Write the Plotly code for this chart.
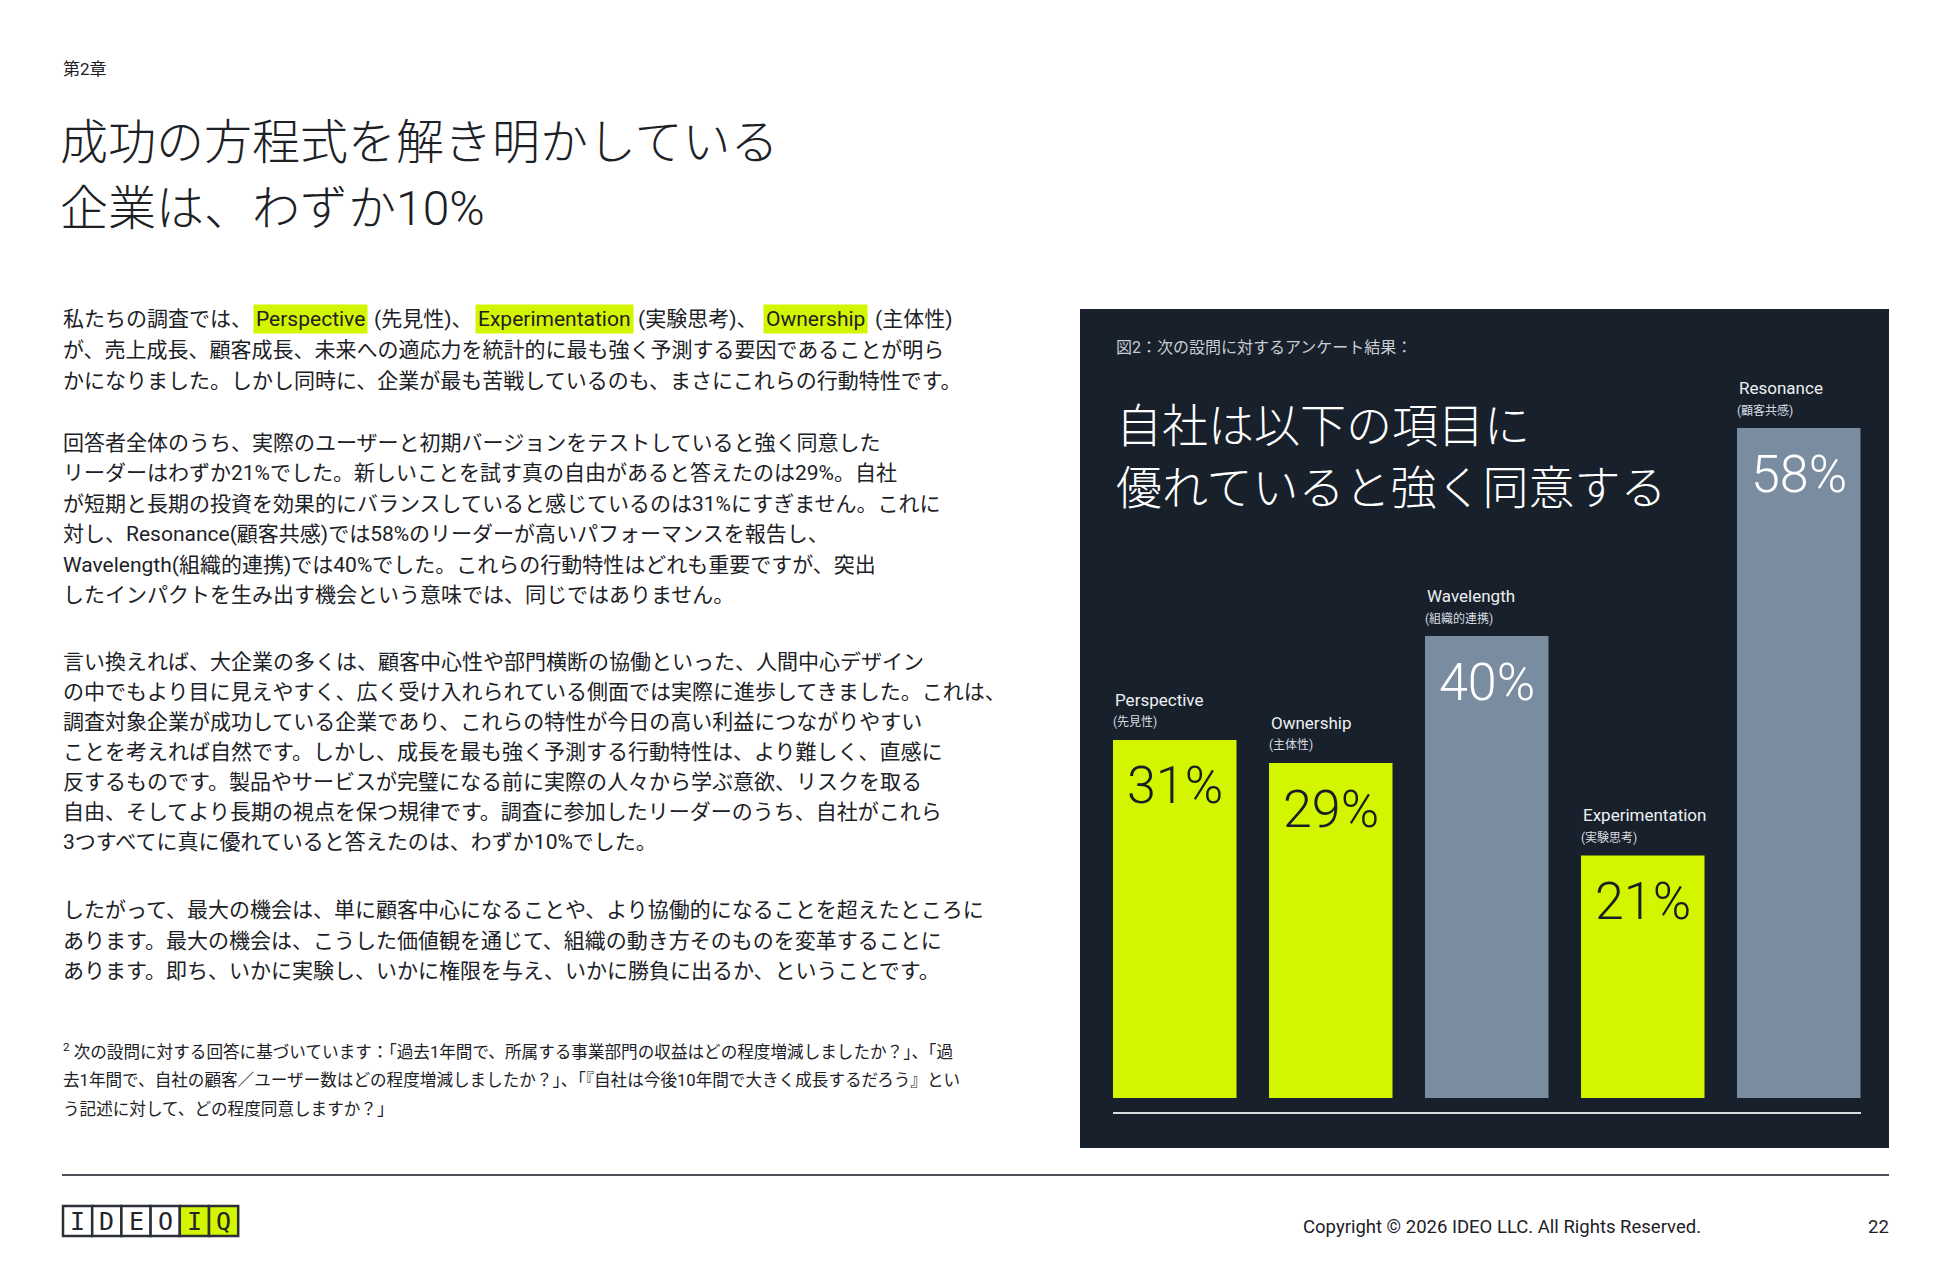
import plotly.graph_objects as go

# --- data ---
categories = ["Perspective", "Ownership", "Wavelength", "Experimentation", "Resonance"]
sublabels = ["(先見性)", "(主体性)", "(組織的連携)", "(実験思考)", "(顧客共感)"]
values = [31, 29, 40, 21, 58]
value_labels = ["31%", "29%", "40%", "21%", "58%"]
bar_colors = ["#d4f500", "#d4f500", "#7a8c9f", "#d4f500", "#7a8c9f"]
value_colors = ["#161e26", "#161e26", "#ffffff", "#161e26", "#ffffff"]

chapter = "第2章"
title_lines = ["成功の方程式を解き明かしている", "企業は、わずか10%"]
chart_caption = "図2：次の設問に対するアンケート結果："
chart_title = ["自社は以下の項目に", "優れていると強く同意する"]

# first line of body with highlighted words
p1_segments = ["私たちの調査では、", "Perspective", "(先見性)、", "Experimentation",
               "(実験思考)、", "Ownership", "(主体性)"]
p1_highlight = [False, True, False, True, False, True, False]

body_lines = [
    "が、売上成長、顧客成長、未来への適応力を統計的に最も強く予測する要因であることが明ら",
    "かになりました。しかし同時に、企業が最も苦戦しているのも、まさにこれらの行動特性です。",
    "回答者全体のうち、実際のユーザーと初期バージョンをテストしていると強く同意した",
    "リーダーはわずか21%でした。新しいことを試す真の自由があると答えたのは29%。自社",
    "が短期と長期の投資を効果的にバランスしていると感じているのは31%にすぎません。これに",
    "対し、Resonance(顧客共感)では58%のリーダーが高いパフォーマンスを報告し、",
    "Wavelength(組織的連携)では40%でした。これらの行動特性はどれも重要ですが、突出",
    "したインパクトを生み出す機会という意味では、同じではありません。",
    "言い換えれば、大企業の多くは、顧客中心性や部門横断の協働といった、人間中心デザイン",
    "の中でもより目に見えやすく、広く受け入れられている側面では実際に進歩してきました。これは、",
    "調査対象企業が成功している企業であり、これらの特性が今日の高い利益につながりやすい",
    "ことを考えれば自然です。しかし、成長を最も強く予測する行動特性は、より難しく、直感に",
    "反するものです。製品やサービスが完璧になる前に実際の人々から学ぶ意欲、リスクを取る",
    "自由、そしてより長期の視点を保つ規律です。調査に参加したリーダーのうち、自社がこれら",
    "3つすべてに真に優れていると答えたのは、わずか10%でした。",
    "したがって、最大の機会は、単に顧客中心になることや、より協働的になることを超えたところに",
    "あります。最大の機会は、こうした価値観を通じて、組織の動き方そのものを変革することに",
    "あります。即ち、いかに実験し、いかに権限を与え、いかに勝負に出るか、ということです。",
]
footnote_lines = [
    "<sup>2</sup> 次の設問に対する回答に基づいています：「過去1年間で、所属する事業部門の収益はどの程度増減しましたか？」、「過",
    "去1年間で、自社の顧客／ユーザー数はどの程度増減しましたか？」、「『自社は今後10年間で大きく成長するだろう』とい",
    "う記述に対して、どの程度同意しますか？」",
]
logo_letters = ["I", "D", "E", "O", "I", "Q"]
copyright_text = "Copyright © 2026 IDEO LLC. All Rights Reserved."
page_number = "22"

# --- page geometry (page pixels, body margin 8px) ---
OFF = 8
W, H = 1934, 1250
FONT = "Roboto, 'Noto Sans CJK JP', sans-serif"
INK = "#1c2126"
PANEL = "#17202b"
LIME = "#d4f500"


def fx(p):
    return (p - OFF) / W


def fy(p):
    return 1 - (p - OFF) / H


fig = go.Figure()

fig.add_trace(go.Bar(
    x=categories, y=values,
    marker=dict(color=bar_colors, line=dict(width=0)),
    xaxis="x2", yaxis="y2",
    hoverinfo="skip",
))

shapes = []
annotations = []

# dark panel
shapes.append(dict(type="rect", xref="paper", yref="paper",
                   x0=fx(1080), x1=fx(1889), y0=fy(309), y1=fy(1148),
                   fillcolor=PANEL, line=dict(width=0), layer="below"))
# chart baseline
shapes.append(dict(type="line", xref="paper", yref="paper",
                   x0=fx(1113), x1=fx(1861), y0=fy(1113), y1=fy(1113),
                   line=dict(color="#d9dde1", width=2)))
# footer rule
shapes.append(dict(type="line", xref="paper", yref="paper",
                   x0=fx(62), x1=fx(1889), y0=fy(1175), y1=fy(1175),
                   line=dict(color="#4b5056", width=2)))


def text(x, y, s, size, color=INK, xanchor="left", yanchor="middle", weight=None,
         family=FONT, **kw):
    f = dict(family=family, size=size, color=color)
    if weight:
        f["weight"] = weight
    annotations.append(dict(xref="paper", yref="paper", x=fx(x), y=fy(y), text=s,
                            showarrow=False, xanchor=xanchor, yanchor=yanchor,
                            font=f, **kw))


# header
text(61, 69, chapter, 17)
text(58, 143, title_lines[0], 48, weight=300)
text(58, 208, title_lines[1], 48, weight=300)

# body first line with highlights
seg_x = [61, 253, 372, 475, 636, 763, 873]
for s, x, hl in zip(p1_segments, seg_x, p1_highlight):
    if hl:
        text(x, 319, s, 21, bgcolor=LIME, borderpad=2)
    else:
        text(x, 319, s, 21)

body_y = [350, 381, 443, 473, 504, 534, 565, 595,
          662, 692, 722, 752, 782, 812, 842, 910, 941, 971]
for s, y in zip(body_lines, body_y):
    text(61, y, s, 21)

for s, y in zip(footnote_lines, [1051, 1080, 1109]):
    text(61, y, s, 16.6)

# chart texts
text(1114, 347, chart_caption, 16, color="#c9ced3")
text(1114, 426, chart_title[0], 46, color="#ffffff", weight=300)
text(1114, 488, chart_title[1], 46, color="#ffffff", weight=300)

for c, sub, v, vl, vc in zip(categories, sublabels, values, value_labels, value_colors):
    annotations.append(dict(xref="x2", yref="y2", x=c, y=v, text=c, showarrow=False,
                            xanchor="left", yanchor="middle", xshift=-62, yshift=40,
                            font=dict(family=FONT, size=17, color="#eef0f2")))
    annotations.append(dict(xref="x2", yref="y2", x=c, y=v, text=sub, showarrow=False,
                            xanchor="left", yanchor="middle", xshift=-64, yshift=18,
                            font=dict(family=FONT, size=12, color="#d8dce0")))
    annotations.append(dict(xref="x2", yref="y2", x=c, y=v, text=vl, showarrow=False,
                            xanchor="center", yanchor="middle", yshift=-46,
                            font=dict(family=FONT, size=52, color=vc, weight=300)))

# logo
box_w = 29.2
for i, ch in enumerate(logo_letters):
    x0 = 63 + i * box_w
    shapes.append(dict(type="rect", xref="paper", yref="paper",
                       x0=fx(x0), x1=fx(x0 + box_w), y0=fy(1206), y1=fy(1236),
                       fillcolor=LIME if i >= 4 else "#ffffff",
                       line=dict(color="#2a3036", width=2.5)))
    text(x0 + box_w / 2, 1221.5, ch, 25, color="#1f262c", xanchor="center",
         family="'DejaVu Sans Mono', monospace")

text(1301, 1227, copyright_text, 18.5)
text(1891, 1227, page_number, 18.5, xanchor="right")

fig.update_layout(
    width=W, height=H,
    margin=dict(l=0, r=0, t=0, b=0),
    paper_bgcolor="#ffffff",
    plot_bgcolor="rgba(0,0,0,0)",
    showlegend=False,
    bargap=0.2083,
    xaxis=dict(visible=False),
    yaxis=dict(visible=False),
    xaxis2=dict(domain=[fx(1096.75), fx(1876.75)], anchor="y2", visible=False,
                fixedrange=True),
    yaxis2=dict(domain=[fy(1098), fy(405)], anchor="x2", range=[0, 60], visible=False,
                fixedrange=True),
    shapes=shapes,
    annotations=annotations,
)

fig.write_html("out.html")
